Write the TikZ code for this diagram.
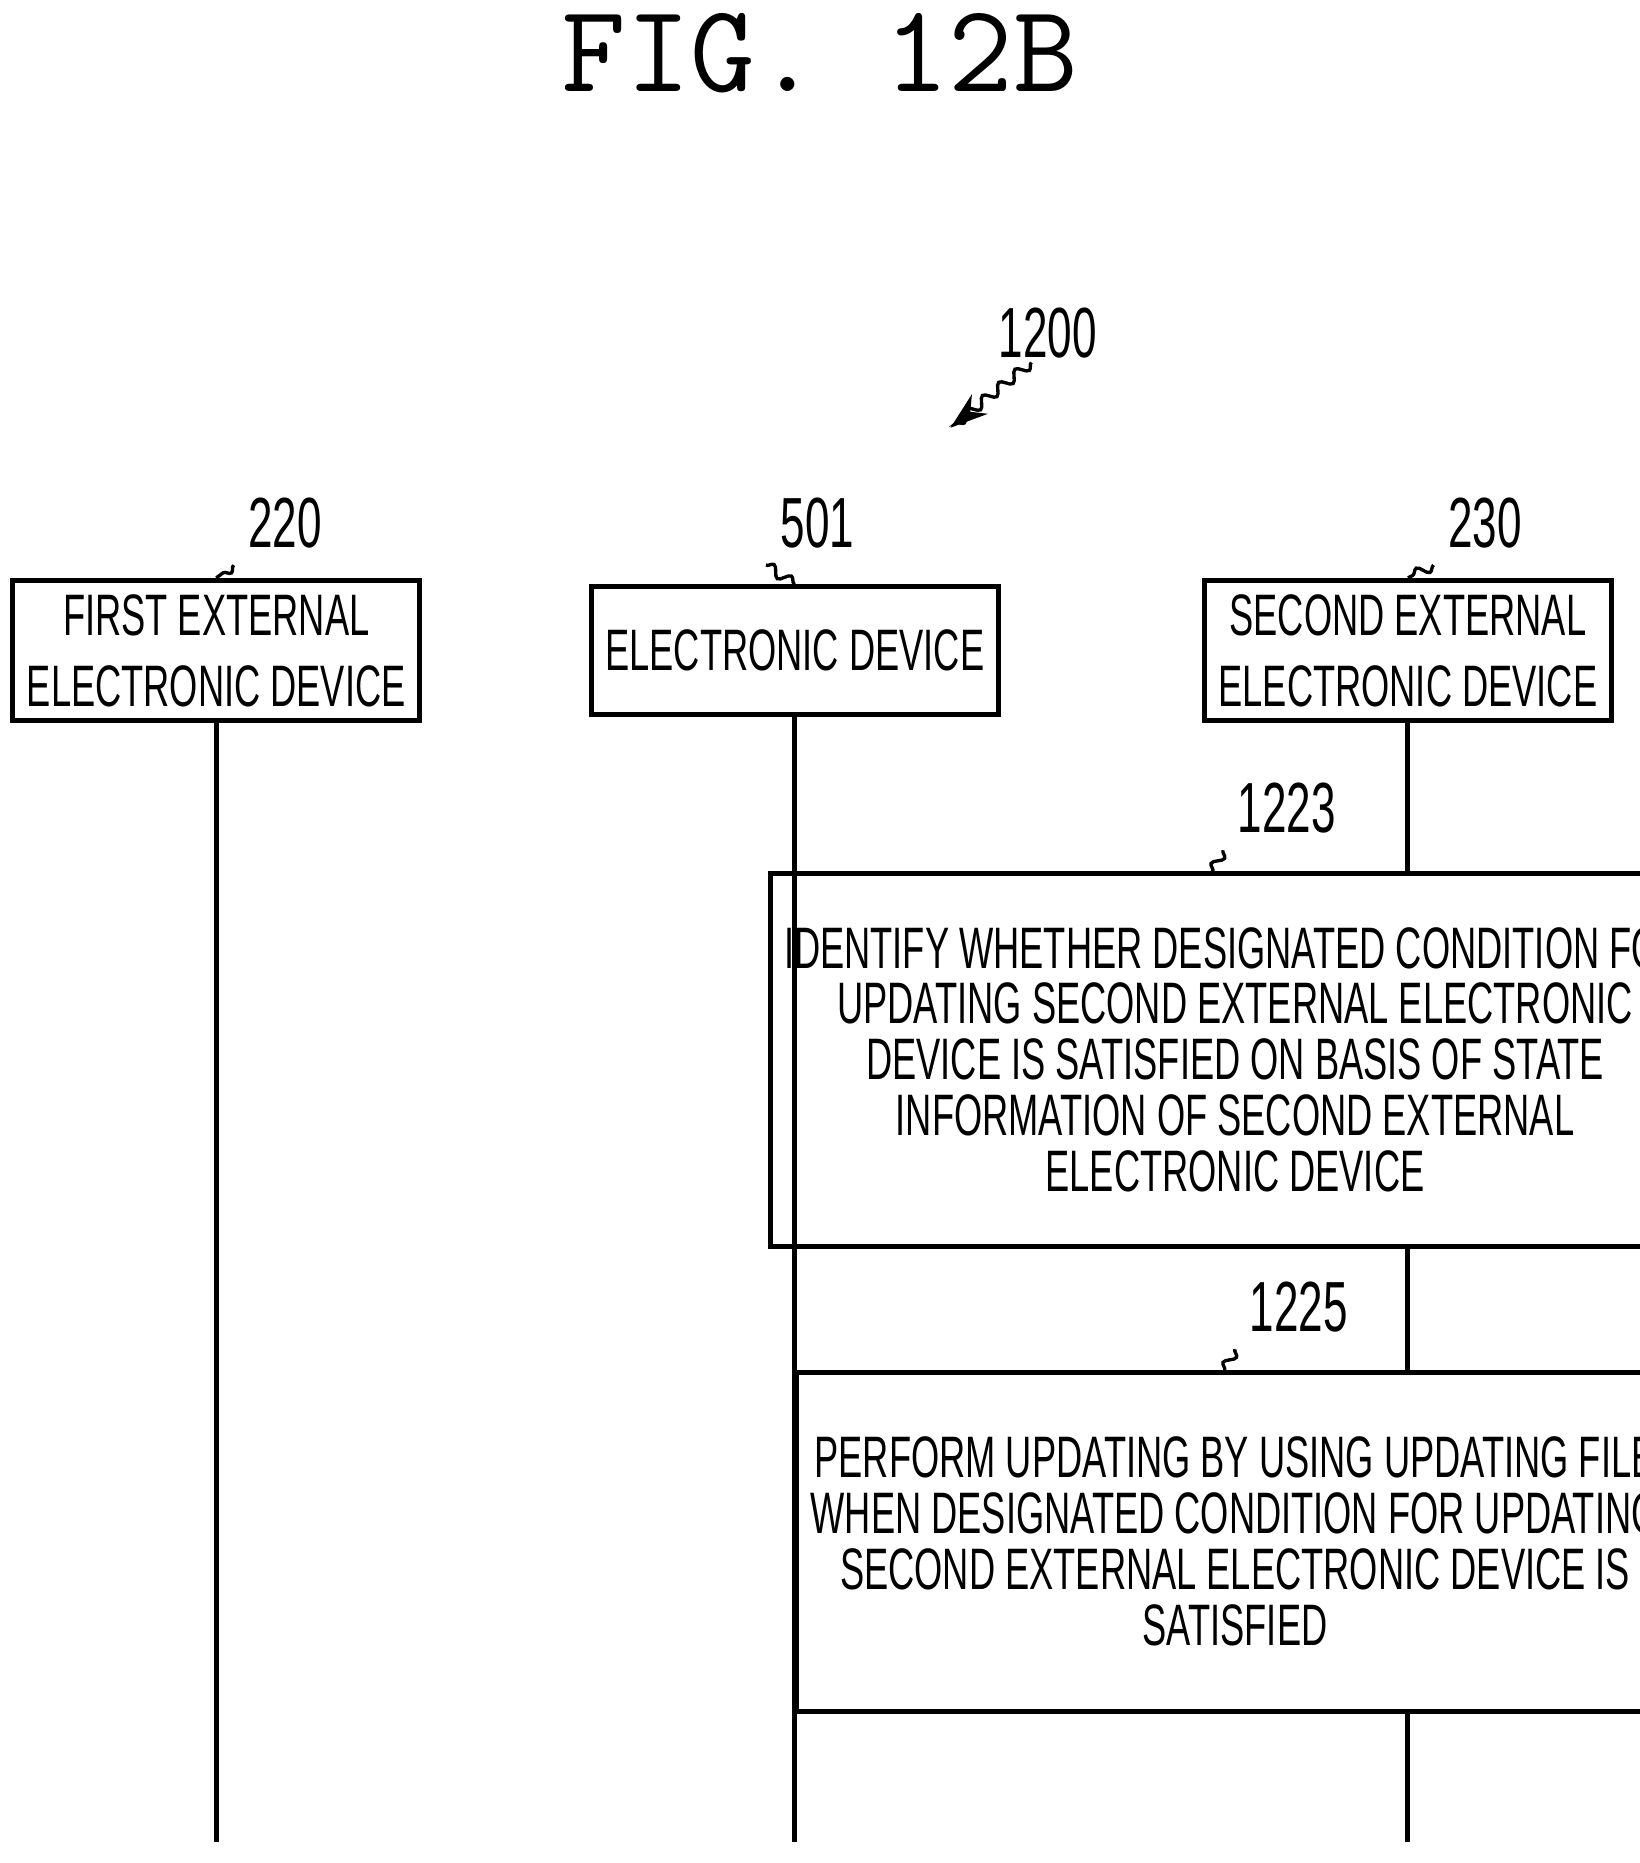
\documentclass[tikz,border=0pt]{standalone}
\usepackage{fontspec}
\setmainfont{Liberation Sans}
\newfontfamily\condfont[FakeStretch=0.62]{Liberation Sans}
\usetikzlibrary{positioning,decorations.pathmorphing,arrows.meta}

\begin{document}
\begin{tikzpicture}[x=0.01cm,y=-0.01cm,
    device/.style={draw, line width=1.2pt, minimum width=3.28cm, minimum height=1.07cm, align=center, font=\condfont\fontsize{14}{17}\selectfont},
    action/.style={draw, line width=1.2pt, minimum width=6.41cm, align=center, font=\condfont\fontsize{14}{13.4}\selectfont},
    refnum/.style={font=\condfont\fontsize{17}{17}\selectfont},
    leader/.style={decorate, decoration={snake, amplitude=1.2pt, segment length=5pt}, line width=0.8pt},
    life/.style={line width=1.2pt}]
    \useasboundingbox (0,0) rectangle (1380,1568);

    % Title
    \node[font=\ttfamily\fontsize{30}{30}\selectfont] (title) at (690,45) {FIG. 12B};

    % Figure number with arrow
    \node[refnum] (n1200) at (882,280) {1200};
    \coordinate (a1200) at (800,360);
    \draw[leader, -{Stealth[length=9pt,width=6pt]}] (868,305) -- (a1200);

    % Devices
    \node[device] (dev1) at (182,547.5) {FIRST EXTERNAL\\ELECTRONIC DEVICE};
    \node[device] (dev0) at (669,547.5) {ELECTRONIC DEVICE};
    \node[device] (dev2) at (1185,547.5) {SECOND EXTERNAL\\ELECTRONIC DEVICE};

    \node[refnum] (n220) at (240,440) {220};
    \node[refnum] (n501) at (688,440) {501};
    \node[refnum] (n230) at (1250,440) {230};
    \draw[leader] (n220.south west) ++(0,2) -- (dev1.north);
    \draw[leader] (n501.south west) ++(0,2) -- (dev0.north);
    \draw[leader] (n230.south west) ++(0,2) -- (dev2.north);

    % Lifelines
    \coordinate (end1) at (182,1550);
    \coordinate (end0) at (669,1550);
    \coordinate (end2) at (1185,1550);
    \draw[life] (dev1.south) -- (end1);
    \draw[life] (dev0.south) -- (end0);

    % Actions of the second external device
    \node[action, minimum height=3.14cm] (s1223) at (1039.5,892) {IDENTIFY WHETHER DESIGNATED CONDITION FOR\\UPDATING SECOND EXTERNAL ELECTRONIC\\DEVICE IS SATISFIED ON BASIS OF STATE\\INFORMATION OF SECOND EXTERNAL\\ELECTRONIC DEVICE};
    \node[action, minimum height=2.85cm] (s1225) at (1039.5,1297.5) {PERFORM UPDATING BY USING UPDATING FILE\\WHEN DESIGNATED CONDITION FOR UPDATING\\SECOND EXTERNAL ELECTRONIC DEVICE IS\\SATISFIED};
    \draw[life] (dev2.south) -- (dev2.south |- s1223.north);
    \draw[life] (dev2.south |- s1223.south) -- (dev2.south |- s1225.north);
    \draw[life] (dev2.south |- s1225.south) -- (end2);

    \node[refnum] (n1223) at (1083,680) {1223};
    \node[refnum] (n1225) at (1093,1100) {1225};
    \draw[leader] (n1223.south west) ++(0,2) -- (1020,735);
    \draw[leader] (n1225.south west) ++(0,2) -- (1030,1155);
\end{tikzpicture}
\end{document}
